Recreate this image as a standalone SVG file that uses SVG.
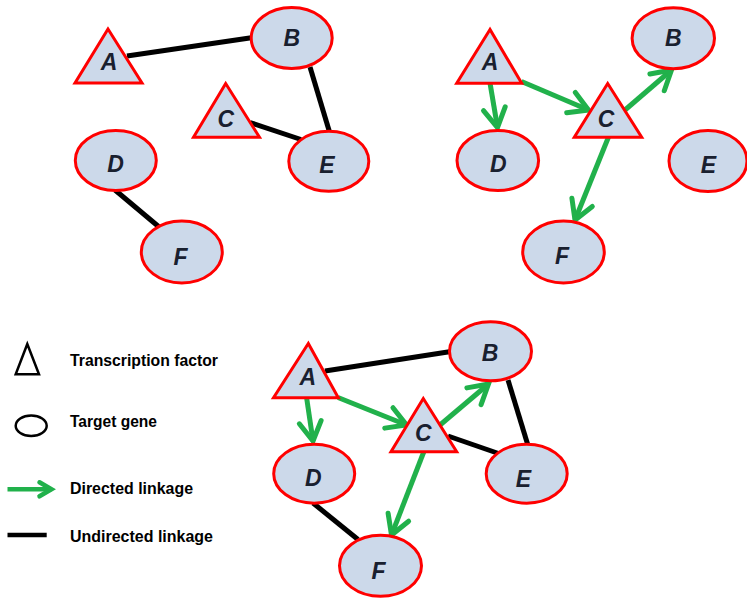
<svg xmlns="http://www.w3.org/2000/svg" width="747" height="598" viewBox="0 0 747 598">
  <style>
    .tf { fill: #ccd9ea; stroke: #ff0000; stroke-width: 3; stroke-linejoin: miter; }
    .tg { fill: #ccd9ea; stroke: #ff0000; stroke-width: 3; }
    .lbl { font-family: "Liberation Sans", Arial, sans-serif; font-weight: bold; font-style: italic; font-size: 23px; fill: #19202f; text-anchor: middle; }
    .und { stroke: #000000; stroke-width: 5; fill: none; }
    .dir { stroke: #21b14b; stroke-width: 5; fill: none; marker-end: url(#chev); }
    .leg { font-family: "Liberation Sans", Arial, sans-serif; font-weight: bold; font-size: 16.5px; fill: #000000; }
  </style>
  <defs>
    <marker id="chev" markerUnits="userSpaceOnUse" orient="auto" refX="0" refY="0" markerWidth="40" markerHeight="40" viewBox="-25 -20 40 40" overflow="visible">
      <path d="M -19 -11 L 0 0 L -19 11" fill="none" stroke="#21b14b" stroke-width="5" stroke-linecap="round" stroke-linejoin="miter"/>
    </marker>
    <marker id="chevSmall" markerUnits="userSpaceOnUse" orient="auto" refX="0" refY="0" markerWidth="30" markerHeight="30" viewBox="-20 -15 30 30" overflow="visible">
      <path d="M -12 -7 L 0 0 L -12 7" fill="none" stroke="#21b14b" stroke-width="4.5" stroke-linecap="round"/>
    </marker>
  </defs>

  <!-- connectors -->
  <g id="connectors">
    <!-- undirected network -->
    <line class="und" x1="127" y1="56" x2="253" y2="37.5"/>
    <line class="und" x1="310" y1="67" x2="329.5" y2="132"/>
    <line class="und" x1="250" y1="122.5" x2="301" y2="139.5"/>
    <line class="und" x1="115" y1="190" x2="158.5" y2="226.5"/>
    <!-- directed network -->
    <line class="dir" x1="490" y1="83" x2="497.5" y2="127.5"/>
    <line class="dir" x1="521.5" y1="81.5" x2="588.5" y2="110"/>
    <line class="dir" x1="625" y1="110" x2="671.5" y2="70"/>
    <line class="dir" x1="608.5" y1="137" x2="575" y2="220"/>
    <!-- combined network -->
    <line class="und" x1="325" y1="371" x2="451" y2="351.5"/>
    <line class="und" x1="508" y1="380" x2="528" y2="445.5"/>
    <line class="und" x1="448" y1="436" x2="500" y2="454"/>
    <line class="und" x1="313" y1="503" x2="358" y2="539.5"/>
    <line class="dir" x1="306.5" y1="397" x2="313" y2="441"/>
    <line class="dir" x1="338" y1="397.5" x2="406.5" y2="425"/>
    <line class="dir" x1="440" y1="425" x2="488.5" y2="384"/>
    <line class="dir" x1="424.5" y1="450" x2="391.5" y2="535"/>
  </g>

  <!-- undirected network nodes -->
  <g id="u-A"><polygon class="tf" points="108,29 75,83 142,83"/><text class="lbl" x="109" y="70">A</text></g>
  <g id="u-B"><ellipse class="tg" cx="291.7" cy="38" rx="40.5" ry="30.5"/><text class="lbl" x="291.7" y="45.5">B</text></g>
  <g id="u-C"><polygon class="tf" points="225.7,83.5 193.5,137.3 259.5,137.3"/><text class="lbl" x="225.7" y="127">C</text></g>
  <g id="u-D"><ellipse class="tg" cx="115.8" cy="160.5" rx="40.5" ry="30"/><text class="lbl" x="115.5" y="172">D</text></g>
  <g id="u-E"><ellipse class="tg" cx="328.8" cy="161.3" rx="40" ry="30"/><text class="lbl" x="327" y="172.5">E</text></g>
  <g id="u-F"><ellipse class="tg" cx="181.8" cy="252" rx="40.5" ry="31"/><text class="lbl" x="180.5" y="264.5">F</text></g>

  <!-- directed network nodes -->
  <g id="d-A"><polygon class="tf" points="490,29.5 456.7,83.3 521.7,83.3"/><text class="lbl" x="490" y="70">A</text></g>
  <g id="d-B"><ellipse class="tg" cx="673.3" cy="38.2" rx="41.2" ry="30.5"/><text class="lbl" x="673.3" y="45.5">B</text></g>
  <g id="d-C"><polygon class="tf" points="607.7,83.5 574.3,137.3 641.7,137.3"/><text class="lbl" x="606" y="127">C</text></g>
  <g id="d-D"><ellipse class="tg" cx="497.8" cy="160.5" rx="40.8" ry="30"/><text class="lbl" x="498.3" y="172">D</text></g>
  <g id="d-E"><ellipse class="tg" cx="708" cy="161" rx="39" ry="30.5"/><text class="lbl" x="708.3" y="172.5">E</text></g>
  <g id="d-F"><ellipse class="tg" cx="563.5" cy="252" rx="40.8" ry="31"/><text class="lbl" x="562" y="264">F</text></g>

  <!-- combined network nodes -->
  <g id="c-A"><polygon class="tf" points="308.3,343.5 273.5,397.7 338.3,397.7"/><text class="lbl" x="307.7" y="384.5">A</text></g>
  <g id="c-B"><ellipse class="tg" cx="490.5" cy="351.3" rx="41" ry="29.5"/><text class="lbl" x="490" y="360.5">B</text></g>
  <g id="c-C"><polygon class="tf" points="423.3,398.5 391,451.7 456.7,451.7"/><text class="lbl" x="423.3" y="440.5">C</text></g>
  <g id="c-D"><ellipse class="tg" cx="314.2" cy="473.7" rx="40.5" ry="29.5"/><text class="lbl" x="313.3" y="485.5">D</text></g>
  <g id="c-E"><ellipse class="tg" cx="526.7" cy="473.7" rx="40.5" ry="29.5"/><text class="lbl" x="523.5" y="486.5">E</text></g>
  <g id="c-F"><ellipse class="tg" cx="380.5" cy="565.8" rx="41" ry="30.5"/><text class="lbl" x="378.5" y="578.5">F</text></g>

  <!-- legend -->
  <g id="legend">
    <polygon points="27.3,344 15.7,374.3 39,374.3" fill="none" stroke="#000" stroke-width="2.5"/>
    <text class="leg" x="70" y="365.5" textLength="148" lengthAdjust="spacingAndGlyphs">Transcription factor</text>
    <ellipse cx="31.2" cy="425.8" rx="15.5" ry="10.3" fill="none" stroke="#000" stroke-width="2.5"/>
    <text class="leg" x="70" y="427.3" textLength="87" lengthAdjust="spacingAndGlyphs">Target gene</text>
    <line x1="7.5" y1="489.3" x2="51.5" y2="489.3" stroke="#21b14b" stroke-width="4.5" marker-end="url(#chevSmall)"/>
    <text class="leg" x="70" y="494" textLength="123" lengthAdjust="spacingAndGlyphs">Directed linkage</text>
    <line x1="7.5" y1="535" x2="46.7" y2="535" stroke="#000" stroke-width="4.5"/>
    <text class="leg" x="70" y="541.5" textLength="143" lengthAdjust="spacingAndGlyphs">Undirected linkage</text>
  </g>
</svg>
